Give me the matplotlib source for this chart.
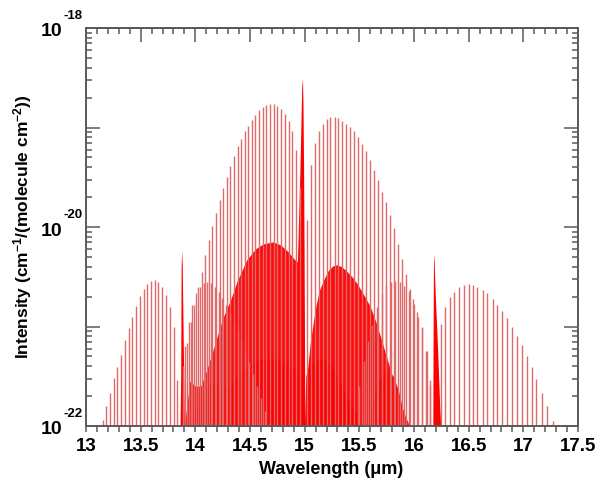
import numpy as np
import matplotlib
matplotlib.use('Agg')
import matplotlib.pyplot as plt
import matplotlib.transforms as mtransforms
from matplotlib.ticker import MultipleLocator, FixedLocator, NullFormatter

plt.rcParams['font.family'] = ['Liberation Sans', 'DejaVu Sans']
plt.rcParams['mathtext.fontset'] = 'custom'
plt.rcParams['mathtext.rm'] = 'Liberation Sans'
plt.rcParams['mathtext.bf'] = 'Liberation Sans:bold'
plt.rcParams['mathtext.it'] = 'Liberation Sans:italic'

# ---------------- data (wavelength in um, log10 intensity) ----------------
# 720 cm-1 band, R branch
r720_wl = [13.153, 13.186, 13.220, 13.254, 13.287, 13.321, 13.355, 13.389, 13.423, 13.457,
           13.492, 13.526, 13.560, 13.595, 13.629, 13.663, 13.698, 13.732, 13.767, 13.801, 13.835]
r720_lg = [-21.94, -21.80, -21.67, -21.52, -21.41, -21.29, -21.14, -21.02, -20.90, -20.79,
           -20.69, -20.62, -20.57, -20.54, -20.535, -20.55, -20.60, -20.68, -20.80, -21.00, -21.54]
# 720 cm-1 band, P branch
p720_wl = [13.905, 13.939, 13.973, 14.007, 14.041, 14.075, 14.110, 14.144, 14.178, 14.213,
           14.247, 14.282, 14.317, 14.352, 14.387, 14.422, 14.457, 14.492, 14.528, 14.563,
           14.598, 14.634, 14.670]
p720_lg = [-21.20, -20.95, -20.78, -20.66, -20.60, -20.56, -20.55, -20.56, -20.60, -20.65,
           -20.71, -20.78, -20.86, -20.95, -21.04, -21.14, -21.25, -21.36, -21.48, -21.60,
           -21.72, -21.85, -21.98]
# 667 cm-1 fundamental, R branch
r667_wl = [13.888, 13.922, 13.956, 13.990, 14.024, 14.058, 14.091, 14.124, 14.157, 14.190,
           14.223, 14.256, 14.289, 14.321, 14.353, 14.386, 14.418, 14.451, 14.484, 14.517,
           14.550, 14.583, 14.616, 14.650, 14.683, 14.717, 14.751, 14.785, 14.819, 14.853,
           14.887, 14.921, 14.955]
r667_lg = [-21.40, -21.17, -20.95, -20.78, -20.60, -20.45, -20.28, -20.13, -19.99, -19.86,
           -19.73, -19.61, -19.50, -19.39, -19.29, -19.19, -19.12, -19.04, -18.98, -18.92,
           -18.87, -18.825, -18.79, -18.775, -18.765, -18.765, -18.78, -18.81, -18.86, -18.93,
           -19.04, -19.23, -19.60]
# 667 cm-1 fundamental, P branch
p667_wl = [15.018, 15.055, 15.091, 15.128, 15.164, 15.200, 15.236, 15.273, 15.309, 15.345,
           15.381, 15.418, 15.454, 15.490, 15.526, 15.562, 15.598, 15.635, 15.671, 15.708,
           15.745, 15.781, 15.818, 15.855, 15.892, 15.929, 15.966, 16.003, 16.040, 16.077,
           16.115, 16.150]
p667_lg = [-19.93, -19.38, -19.16, -19.04, -18.96, -18.91, -18.89, -18.89, -18.90, -18.93,
           -18.96, -18.99, -19.04, -19.10, -19.17, -19.24, -19.33, -19.43, -19.53, -19.65,
           -19.75, -19.88, -20.01, -20.17, -20.32, -20.47, -20.62, -20.77, -20.90, -21.02,
           -21.25, -21.54]
# 618 cm-1 band, R branch
r618_wl = [15.500, 15.540, 15.580, 15.620, 15.660, 15.705, 15.745, 15.790, 15.830, 15.870,
           15.910, 15.950, 15.990, 16.030, 16.070, 16.110, 16.150]
r618_lg = [-21.60, -21.35, -21.15, -20.98, -20.80, -20.67, -20.59, -20.55, -20.54, -20.55,
           -20.59, -20.64, -20.72, -20.85, -21.00, -21.25, -21.60]
# 618 cm-1 band, P branch
p618_wl = [16.245, 16.285, 16.330, 16.370, 16.410, 16.455, 16.500, 16.540, 16.580, 16.630,
           16.670, 16.720, 16.760, 16.805, 16.850, 16.895, 16.940, 16.985, 17.030, 17.080,
           17.120, 17.170, 17.215, 17.270]
p618_lg = [-20.97, -20.80, -20.70, -20.65, -20.60, -20.58, -20.57, -20.58, -20.60, -20.63,
           -20.66, -20.72, -20.78, -20.84, -20.91, -21.00, -21.10, -21.19, -21.30, -21.41,
           -21.53, -21.67, -21.80, -21.95]

# dense Q branches (envelopes)
q720_wl = [13.860, 13.866, 13.870, 13.875, 13.880, 13.885, 13.890, 13.895, 13.900]
q720_lg = [-22.0, -21.5, -20.40, -20.23, -20.38, -20.80, -21.20, -21.60, -22.0]
q667_wl = [14.930, 14.935, 14.945, 14.955, 14.965, 14.973, 14.980, 14.985, 14.990, 14.995, 15.002]
q667_lg = [-22.0, -20.30, -19.90, -19.50, -19.00, -18.60, -18.50, -18.80, -19.40, -20.30, -22.0]
q618_wl = [16.172, 16.175, 16.178, 16.182, 16.187, 16.195, 16.205, 16.215, 16.225, 16.235, 16.245]
q618_lg = [-22.0, -21.00, -20.35, -20.27, -20.45, -20.70, -20.95, -21.20, -21.50, -21.80, -22.0]

# hot band (dense lines) envelopes
hotR_wl = [13.90, 13.95, 14.00, 14.05, 14.10, 14.15, 14.20, 14.25, 14.32, 14.38, 14.47, 14.55,
           14.62, 14.71, 14.78, 14.85, 14.91, 14.94]
hotR_lg = [-22.0, -21.55, -21.60, -21.60, -21.45, -21.28, -21.10, -20.92, -20.74, -20.55, -20.33,
           -20.22, -20.17, -20.15, -20.18, -20.25, -20.33, -20.35]
hotP_wl = [15.000, 15.020, 15.050, 15.095, 15.130, 15.170, 15.220, 15.260, 15.295, 15.340,
           15.390, 15.440, 15.480, 15.540, 15.600, 15.660, 15.720, 15.780, 15.830, 15.870,
           15.920, 15.960]
hotP_lg = [-22.0, -21.50, -21.17, -20.84, -20.65, -20.54, -20.43, -20.39, -20.38, -20.40,
           -20.45, -20.51, -20.57, -20.68, -20.80, -20.98, -21.20, -21.42, -21.60, -21.74,
           -21.90, -22.0]
# weaker hot bands
weakR_wl = [13.95, 14.03, 14.10, 14.17, 14.25, 14.33, 14.42, 14.50, 14.60, 14.71, 14.80, 14.90, 14.95]
weakR_lg = [-22.0, -21.80, -21.62, -21.57, -21.60, -21.58, -21.45, -21.38, -21.33, -21.32,
            -21.35, -21.42, -21.50]
weakP_wl = [15.00, 15.01, 15.03, 15.08, 15.14, 15.20, 15.27, 15.34, 15.41, 15.48, 15.52]
weakP_lg = [-22.0, -21.50, -21.42, -21.35, -21.32, -21.35, -21.45, -21.60, -21.75, -21.88, -22.0]
weak2_wl = [15.58, 15.62, 15.67, 15.72, 15.76, 15.81, 15.86, 15.90, 15.93]
weak2_lg = [-22.0, -21.75, -21.55, -21.46, -21.44, -21.50, -21.65, -21.85, -22.0]

x_ticks = [13, 13.5, 14, 14.5, 15, 15.5, 16, 16.5, 17, 17.5]
x_ticklabels = ['13', '13.5', '14', '14.5', '15', '15.5', '16', '16.5', '17', '17.5']
y_major = [1e-22, 1e-21, 1e-20, 1e-19, 1e-18]
y_label_exps = [-18, -20, -22]

# ---------------- plot ----------------
BASE = 1e-22
fig = plt.figure(figsize=(6.0, 4.87), dpi=100)
ax = fig.add_axes([86 / 600, 1 - 426 / 487, 492 / 600, 398 / 487])

def fill(wl, lg, **kw):
    ax.fill_between(wl, BASE, 10 ** np.array(lg), lw=0, **kw)

def lines(wl, lg, **kw):
    ax.vlines(wl, BASE, 10 ** np.array(lg), **kw)

fill(hotR_wl, hotR_lg, color='#ff0a0a')
fill(hotP_wl, hotP_lg, color='#ff0a0a')
for w, l in [(weakR_wl, weakR_lg), (weakP_wl, weakP_lg), (weak2_wl, weak2_lg)]:
    fill(w, l, color='#ff0000')

line_col = '#e06a6a'
for w, l in [(r720_wl, r720_lg), (p720_wl, p720_lg), (r667_wl, r667_lg), (p667_wl, p667_lg),
             (r618_wl, r618_lg), (p618_wl, p618_lg)]:
    lines(w, l, color=line_col, lw=1.0)

for w, l in [(q720_wl, q720_lg), (q667_wl, q667_lg), (q618_wl, q618_lg)]:
    fill(w, l, color='#ff0000')

ax.set_yscale('log')
ax.set_xlim(13, 17.5)
ax.set_ylim(1e-22, 1e-18)

spine_col = '#5a5a5a'
for s in ax.spines.values():
    s.set_color(spine_col)
    s.set_linewidth(1.4)

ax.xaxis.set_major_locator(FixedLocator(x_ticks))
ax.set_xticklabels(x_ticklabels)
ax.xaxis.set_minor_locator(MultipleLocator(0.1))
ax.tick_params(axis='x', which='both', direction='out', length=4.5, width=1.1,
               color=spine_col, top=False, labelsize=13.5, pad=4)
for lab in ax.get_xticklabels():
    lab.set_fontweight('bold')

secx = ax.secondary_xaxis('top')
secx.xaxis.set_major_locator(FixedLocator(x_ticks))
secx.xaxis.set_minor_locator(MultipleLocator(0.1))
secx.tick_params(axis='x', which='major', direction='in', length=10, width=1.1, color=spine_col,
                 labeltop=False)
secx.tick_params(axis='x', which='minor', direction='in', length=4.5, width=1.1, color=spine_col)
secx.spines['top'].set_color(spine_col)
secx.spines['top'].set_linewidth(1.4)

ax.yaxis.set_major_locator(FixedLocator(y_major))
ax.yaxis.set_major_formatter(NullFormatter())
ax.yaxis.set_minor_locator(FixedLocator([m * 10.0 ** e for e in range(-22, -18) for m in range(2, 10)]))
ax.yaxis.set_minor_formatter(NullFormatter())
ax.tick_params(axis='y', which='major', direction='in', length=10, width=1.1, color=spine_col,
               left=True, right=True)
ax.tick_params(axis='y', which='minor', direction='in', length=4.5, width=1.1, color=spine_col,
               left=True, right=True)

# y tick labels: "10" with a small raised exponent
blend = mtransforms.blended_transform_factory(ax.transAxes, ax.transData)
base_tr = mtransforms.offset_copy(blend, fig=fig, x=-24, y=-4, units='dots')
exp_tr = mtransforms.offset_copy(blend, fig=fig, x=-23, y=12, units='dots')
for e in y_label_exps:
    ax.text(0, 10.0 ** e, '10', transform=base_tr, ha='right', va='center',
            fontsize=14, fontweight='bold', clip_on=False)
    ax.text(0, 10.0 ** e, '%d' % e, transform=exp_tr, ha='left', va='center',
            fontsize=9.5, fontweight='bold', clip_on=False)

ax.set_xlabel('Wavelength (μm)', fontsize=13, fontweight='bold')
ax.xaxis.set_label_coords(0.498, -0.088)
ax.set_ylabel(r'Intensity (cm$^{\mathbf{-1}}$/(molecule cm$^{\mathbf{-2}}$))', fontsize=12.5,
              fontweight='bold')
ax.yaxis.set_label_coords(-0.105, 0.5)

fig.savefig('out.png', dpi=100)
